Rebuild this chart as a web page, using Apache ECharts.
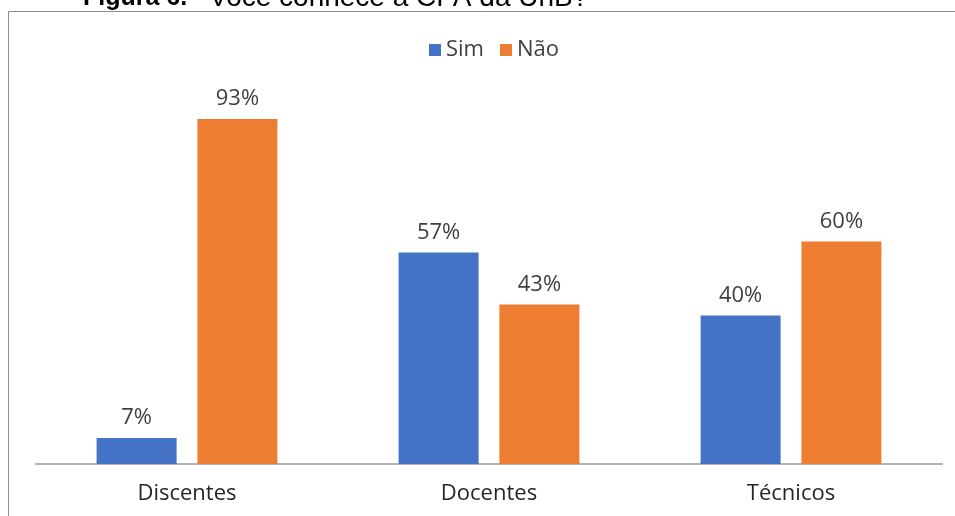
<!DOCTYPE html>
<html><head><meta charset="utf-8">
<script src="https://cdn.jsdelivr.net/npm/echarts@6/dist/echarts.min.js"></script>
<style>html,body{margin:0;padding:0;background:#fff}#c{width:955px;height:516px}</style>
</head><body><div id="c"></div>
<script>
const categories = ['Discentes', 'Docentes', 'Técnicos'];
const simValues = [7, 57, 40];
const naoValues = [93, 43, 60];
const seriesNames = ['Sim', 'Não'];
const FONT = '"Open Sans", sans-serif';
const chart = echarts.init(document.getElementById('c'), null, {renderer: 'canvas'});
const labelCfg = {show: true, position: 'top', distance: 9, formatter: '{c}%', fontFamily: FONT, fontSize: 22, color: '#404040'};
chart.setOption({
  animation: false,
  graphic: [
    {type: 'rect', shape: {x: 8.5, y: 11.5, width: 1000, height: 1000}, style: {fill: 'none', stroke: '#8c8c8c', lineWidth: 1}},
    {type: 'text', x: 83, y: 11, style: {text: 'Figura 6.', fontFamily: 'Liberation Sans', fontWeight: 'bold', fontSize: 25, fill: '#000', verticalAlign: 'bottom'}},
    {type: 'text', x: 209, y: 12, style: {text: 'Você conhece a CPA da UnB?', fontFamily: 'Liberation Sans', fontSize: 28, fill: '#000', verticalAlign: 'bottom'}}
  ],
  legend: {top: 34, left: 424, itemWidth: 12, itemHeight: 12, itemGap: 16, icon: 'rect', textStyle: {fontFamily: FONT, fontSize: 22, color: '#404040'}, data: seriesNames},
  grid: {left: 36, right: 13, top: 93, bottom: 52},
  xAxis: {type: 'category', data: categories, axisLine: {lineStyle: {color: '#b3b3b3', width: 2}}, axisTick: {show: false}, axisLabel: {margin: 19, fontFamily: FONT, fontSize: 22, color: '#262626'}},
  yAxis: {type: 'value', min: 0, max: 100, show: false},
  series: [
    {name: seriesNames[0], type: 'bar', data: simValues, barWidth: 80, barGap: '26%', itemStyle: {color: '#4472C4'}, label: labelCfg},
    {name: seriesNames[1], type: 'bar', data: naoValues, barWidth: 80, barGap: '26%', itemStyle: {color: '#ED7D31'}, label: labelCfg}
  ]
});
</script></body></html>
